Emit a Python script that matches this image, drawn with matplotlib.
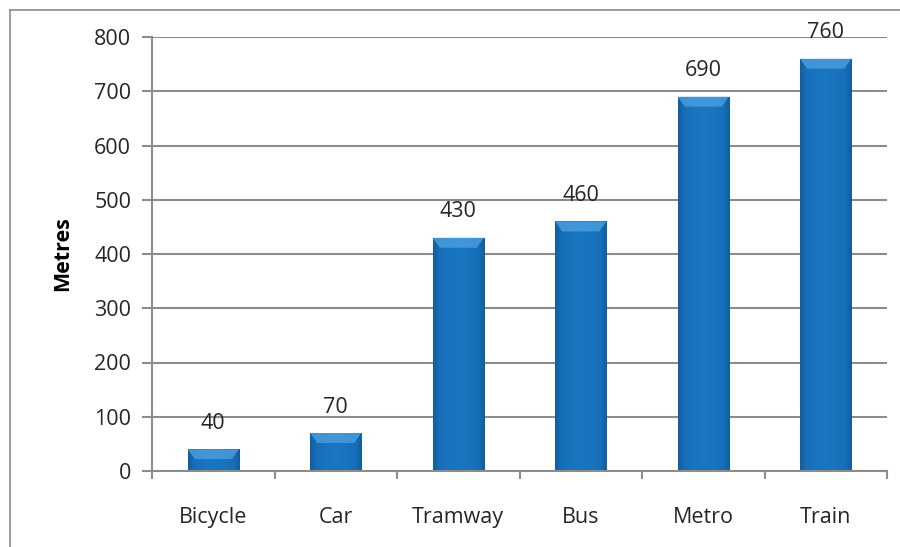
import matplotlib
matplotlib.use("Agg")
import matplotlib.pyplot as plt
import numpy as np
from matplotlib.colors import LinearSegmentedColormap
from matplotlib.patches import Polygon

categories = ["Bicycle", "Car", "Tramway", "Bus", "Metro", "Train"]
values = [40, 70, 430, 460, 690, 760]
yticks = [0, 100, 200, 300, 400, 500, 600, 700, 800]
ylabel = "Metres"

plt.rcParams['font.family'] = ['Open Sans', 'DejaVu Sans']

W, H = 900, 547
fig = plt.figure(figsize=(W/100, H/100), dpi=100)
ax = fig.add_axes([152/W, 1-471/H, (887-152)/W, (471-37)/H])

grid_c = "#8c8c8c"
txt_c = "#262626"
fs = 15.5
x = np.arange(len(categories))
bw = 0.42
bars = ax.bar(x, values, width=bw, color="#1872bd", zorder=2)

cmap = LinearSegmentedColormap.from_list(
    "cyl", [(0, "#125c9c"), (0.12, "#176fb8"), (0.5, "#1b77c2"), (0.88, "#176fb8"), (1, "#125c9c")])
grad = np.linspace(0, 1, 256).reshape(1, -1)
px = 800 / 434  # data units per pixel
for xi, v, b in zip(x, values, bars):
    im = ax.imshow(grad, extent=(xi-bw/2, xi+bw/2, 0, v), aspect='auto', cmap=cmap,
                   zorder=3, interpolation='bicubic')
    im.set_clip_path(b)
    bev = min(10 * px, v*0.45)
    dx = 0.06
    poly = Polygon([(xi-bw/2, v), (xi+bw/2, v), (xi+bw/2-dx, v-bev), (xi-bw/2+dx, v-bev)],
                   closed=True, facecolor="#4ea2e2", edgecolor="none", alpha=0.75, zorder=4)
    ax.add_patch(poly)
    ax.annotate(f"{v}", (xi, v), xytext=(0, 11), textcoords='offset points',
                ha='center', va='bottom', fontsize=fs, color=txt_c, zorder=5)

ax.set_xlim(-0.5, len(categories)-0.5)
ax.set_ylim(0, 800)
ax.set_yticks(yticks)
ax.set_yticklabels([str(t) for t in yticks], fontsize=fs, color=txt_c)
ax.set_xticks(x)
ax.set_xticklabels(categories, fontsize=fs, color=txt_c)
ax.tick_params(axis='x', length=0, pad=26)
ax.set_xticks(np.arange(len(categories)+1) - 0.5, minor=True)
ax.tick_params(axis='x', which='minor', length=6, color=grid_c, width=1.5, direction='out')
ax.tick_params(axis='y', length=7, color=grid_c, width=1.5, direction='out', pad=8)

ax.yaxis.grid(True, color=grid_c, linewidth=1.5, zorder=0)
ax.set_axisbelow(True)
for s in ['top', 'right']:
    ax.spines[s].set_visible(False)
for s in ['left', 'bottom']:
    ax.spines[s].set_color(grid_c)
    ax.spines[s].set_linewidth(1.5)
ax.spines['bottom'].set_zorder(6)

ax.set_ylabel(ylabel, fontsize=fs, fontweight='bold', color="#000000", labelpad=15)

# outer border (left & top visible)
fig.add_artist(plt.Line2D([10/W, 10/W], [0, 1-10/H], color="#8c8c8c", lw=1.2, transform=fig.transFigure))
fig.add_artist(plt.Line2D([10/W, 1], [1-10/H, 1-10/H], color="#8c8c8c", lw=1.2, transform=fig.transFigure))

fig.savefig("out.png", dpi=100)
